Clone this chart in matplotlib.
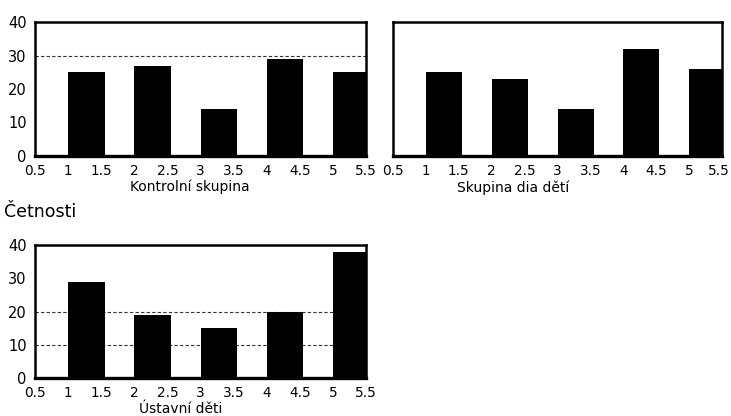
import matplotlib
matplotlib.use("Agg")
import matplotlib.pyplot as plt
from matplotlib.transforms import ScaledTranslation

plt.rcParams['font.family'] = ['DejaVu Sans']

categories = [1, 2, 3, 4, 5]
kontrolni = [25, 27, 14, 29, 25]
dia = [25, 23, 14, 32, 26]
ustavni = [29, 19, 15, 20, 38]
xticks = [0.5, 1, 1.5, 2, 2.5, 3, 3.5, 4, 4.5, 5, 5.5]
xticklabels = ["0.5", "1", "1.5", "2", "2.5", "3", "3.5", "4", "4.5", "5", "5.5"]
yticks = [0, 10, 20, 30, 40]
titles = ["Kontrolní skupina", "Skupina dia dětí", "Ústavní děti"]

W, H = 731, 416
fig = plt.figure(figsize=(W / 100, H / 100), dpi=100)


def box(l, r, t, b):
    return [l / W, 1 - b / H, (r - l) / W, (b - t) / H]


def panel(rect, values, title, title_xy, show_y, grid_vals):
    ax = fig.add_axes(rect)
    ax.set_xlim(0.5, 5.5)
    ax.set_ylim(0, 40)
    for g in grid_vals:
        ax.axhline(g, color="#333333", lw=0.8, ls=(0, (3, 2)), zorder=0)
    ax.bar(categories, values, width=0.55, align="edge", color="black", zorder=2)
    ax.set_xticks(xticks)
    ax.set_xticklabels(xticklabels, fontsize=9.8)
    ax.set_yticks(yticks)
    if show_y:
        ax.set_yticklabels([str(v) for v in yticks], fontsize=10.5)
        off = ScaledTranslation(0, 4 / 100, fig.dpi_scale_trans)
        for lab in ax.get_yticklabels():
            lab.set_transform(lab.get_transform() + off)
    else:
        ax.set_yticklabels([])
    ax.tick_params(axis="both", length=0)
    ax.tick_params(axis="x", pad=6)
    ax.tick_params(axis="y", pad=6)
    for s in ax.spines.values():
        s.set_linewidth(1.8)
    ax.spines["bottom"].set_linewidth(2.4)
    fig.text(title_xy[0] / W, 1 - title_xy[1] / H, title, fontsize=10,
             ha="center", va="center")
    return ax


panel(box(35, 366, 22, 156), kontrolni, titles[0], (190, 187), True, [30])
ax2 = panel(box(393, 722, 22, 156), dia, titles[1], (513, 188), False, [])
last = ax2.get_xticklabels()[-1]
last.set_transform(last.get_transform()
                   + ScaledTranslation(-3 / 100, 0, fig.dpi_scale_trans))
panel(box(35, 366, 245, 378), ustavni, titles[2], (181, 409), True, [10, 20])

fig.text(4 / W, 1 - 212 / H, "Četnosti", fontsize=12.5, ha="left", va="center")

fig.savefig("out.png", dpi=100)
